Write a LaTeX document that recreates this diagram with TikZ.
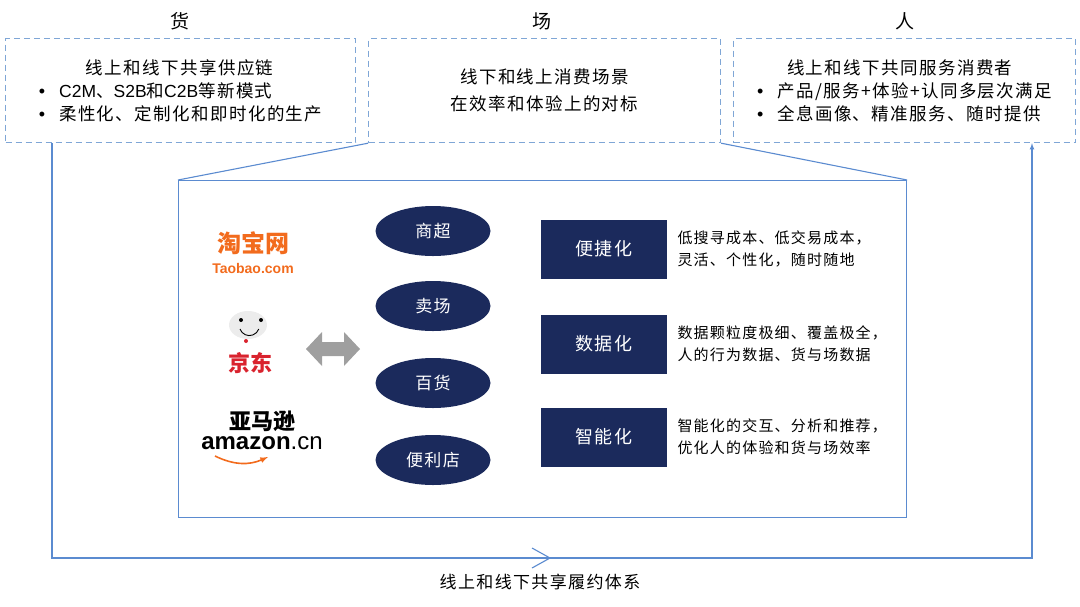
\documentclass[tikz,border=0pt]{standalone}
\usepackage{fontspec}
\setmainfont{Noto Sans CJK SC}[LetterSpace=8]
\newfontfamily\latinfont{Liberation Sans}
\newfontfamily\logofont{Noto Sans CJK SC}
\usetikzlibrary{calc,shapes.geometric}
\definecolor{navy}{HTML}{1B2A5C}
\definecolor{frame}{HTML}{5B8BD0}
\definecolor{dashblue}{HTML}{7FA6D6}
\definecolor{tborange}{HTML}{F26B1D}
\definecolor{jdred}{HTML}{D9232E}
\newcommand{\bul}{{\latinfont\fontsize{18}{18}\selectfont •}\hspace{14pt}}

\begin{document}
\begin{tikzpicture}[x=1pt,y=-1pt,
  topbox/.style={draw=dashblue,dash pattern=on 6pt off 4pt,line width=1.2pt,minimum width=350pt,minimum height=104pt,anchor=north west},
  store/.style={ellipse,fill=navy,text=white,minimum width=115pt,minimum height=50pt,font=\fontsize{17}{17}\selectfont},
  trait/.style={rectangle,fill=navy,text=white,minimum width=126pt,minimum height=59pt,font=\fontsize{18}{18}\selectfont},
  desc/.style={anchor=west,align=left,font=\fontsize{15}{22}\selectfont},
  head/.style={font=\fontsize{19}{19}\selectfont},
  frameline/.style={draw=frame,line width=1.1pt}]
\useasboundingbox (0,0) rectangle (1080,606);

% headers
\node[head] (hhuo) at (180,21) {货};
\node[head] (hchang) at (542,21) {场};
\node[head] (hren) at (905,21) {人};

% top boxes
\node[topbox] (goods) at (5,38) {};
\node[topbox,minimum width=352pt] (scene) at (368,38) {};
\node[topbox,minimum width=342pt] (people) at (733,38) {};

\node[align=left,font=\fontsize{17.5}{23}\selectfont] (goodstxt) at (goods.center)
  {\hspace*{47pt}线上和线下共享供应链\\
   \bul{\latinfont C2M}、{\latinfont S2B}和{\latinfont C2B}等新模式\\
   \bul 柔性化、定制化和即时化的生产};
\node[align=center,font=\fontsize{17.5}{27}\selectfont] (scenetxt) at (scene.center)
  {线下和线上消费场景\\在效率和体验上的对标};
\node[align=left,font=\fontsize{17.5}{23}\selectfont] (peopletxt) at (people.center)
  {\hspace*{30pt}线上和线下共同服务消费者\\
   \bul 产品/服务+体验+认同多层次满足\\
   \bul 全息画像、精准服务、随时提供};

% inner frame
\node[draw=frame,line width=1.1pt,minimum width=728pt,minimum height=337pt,anchor=north west] (inner) at (178,180) {};
\draw[frameline] (scene.south west) -- (inner.north west);
\draw[frameline] (scene.south east) -- (inner.north east);

% loop
\coordinate (loopL) at (52,558);
\coordinate (loopR) at (1032,558);
\draw[frameline,-latex] (goods.south west -| loopL) -- (loopL) -- (loopR) -- (people.south west -| loopR);
\draw[frame,line width=1.1pt] (532,548) -- (550,558) -- (532,568);
\node[font=\fontsize{17}{17}\selectfont] (looptxt) at (540,582) {线上和线下共享履约体系};

% logos
\node[text=tborange,font=\logofont\fontsize{24}{24}\selectfont\bfseries] (taobao) at (253,243) {淘宝网};
\node[text=tborange,font=\latinfont\fontsize{14}{14}\selectfont\bfseries] (taobaocom) at (253,268) {Taobao.com};
\fill[white!85!gray] (248,325) ellipse (19pt and 14pt);
\fill[black] (241,320) circle (2pt) (261,320) circle (2pt);
\draw[black,line width=0.9pt] (240,329) arc (200:340:10pt);
\fill[jdred] (246,341) circle (2pt);
\node[text=jdred,font=\logofont\fontsize{22}{22}\selectfont\bfseries] (jd) at (250,363) {京东};
\node[font=\logofont\fontsize{22}{22}\selectfont\bfseries] (yamaxun) at (262,421) {亚马逊};
\node[font=\latinfont\fontsize{24}{24}\selectfont\bfseries] (amazon) at (262,443) {amazon\textmd{.cn}};
\draw[tborange,line width=1.6pt,-latex] (215,456) to[bend right=25] (268,457);

% double arrow
\fill[gray!75] (306,349) -- (322,332) -- (322,342) -- (344,342) -- (344,332) -- (360,349)
  -- (344,366) -- (344,356) -- (322,356) -- (322,366) -- cycle;
\coordinate (link) at (333,349);

% store formats
\foreach \name/\txt/\y in {mall/商超/231, market/卖场/306, dept/百货/383, conv/便利店/460}
  \node[store] (\name) at (433,\y) {\txt};

% traits
\node[trait] (convenient) at (604,249) {便捷化};
\node[trait] (data) at (604,344) {数据化};
\node[trait] (smart) at (604,437) {智能化};
\node[desc] (convtxt) at (674,249) {低搜寻成本、低交易成本，\\灵活、个性化，随时随地};
\node[desc] (datatxt) at (674,344) {数据颗粒度极细、覆盖极全，\\人的行为数据、货与场数据};
\node[desc] (smarttxt) at (674,437) {智能化的交互、分析和推荐，\\优化人的体验和货与场效率};
\end{tikzpicture}
\end{document}
